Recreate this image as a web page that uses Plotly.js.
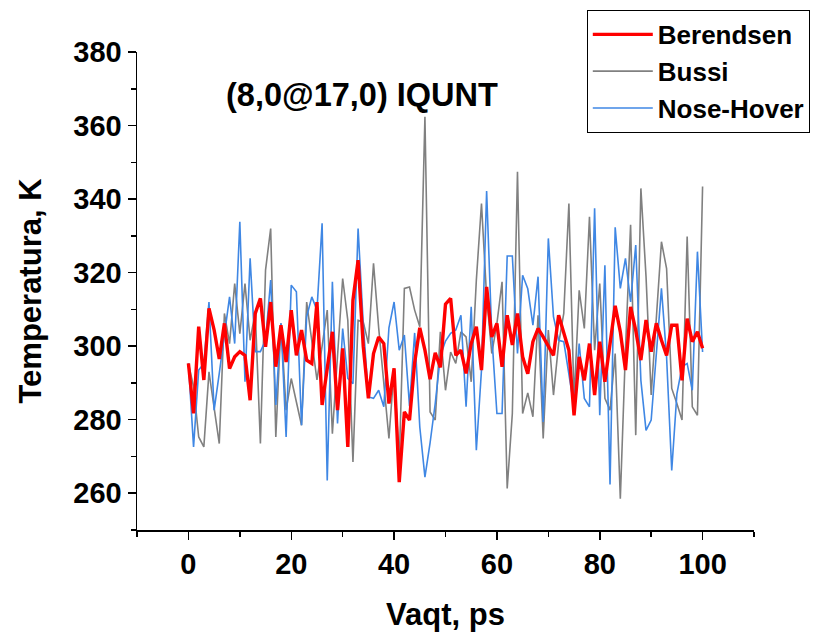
<!DOCTYPE html>
<html>
<head>
<meta charset="utf-8">
<script src="https://cdn.plot.ly/plotly-3.0.1.min.js"></script>
<style>html,body{margin:0;padding:0;background:#fff;}#chart{width:814px;height:633px;}</style>
</head>
<body>
<div id="chart"></div>
<script>
const timePs = Array.from({length: 101}, (_, i) => i);

const berendsen = [295.3,281.7,305.3,290.8,310.3,304.4,296.5,306.2,293.9,297.1,
298.5,297.5,285.3,308.9,313,299.8,312,294.4,305.7,295.7,
309.8,297.5,304.4,296.2,295.3,312,284,294.4,303.9,282.6,
299.4,272.6,312.5,323.4,300,285.8,298,302.5,300.7,284.4,
294,263,282.1,279.9,295.5,305,298.9,291,298.2,294.2,
311.4,313,297.5,298.9,292.6,300.7,305.3,293.5,316.1,302.5,
306.2,294.4,308.4,300.3,308.9,297.1,292.5,301.2,304.8,302.5,
299.8,297.5,308.4,303.9,298.9,281.2,297.1,290.7,300.7,286.7,
301.2,290.3,300.7,311,303.9,293.5,310.7,304.3,296.2,307.1,
298.5,306.2,301.6,297.5,305.7,305.7,290.7,307.5,301.2,303.9,299.4];

const bussi = [295.3,289,275.3,272.6,293,283.5,273.5,308.9,300.7,317,
303.4,317,301.6,309.3,273.5,320.7,332,275.3,306.2,282.6,
291.2,284.8,278.5,312,301.6,290.8,300,309.8,276.2,297,
318.4,307,268.5,307,306.6,300.7,322.5,305,290,274.9,
293.9,268.5,315.7,316.1,309.8,305.3,362.4,282.1,279.9,303.9,
288,298.4,295.3,303.9,302.5,290.3,318,338.8,313.4,298,
306.2,317.5,261.3,281.7,347.4,281.7,287.3,280.8,308.4,274.9,
304.4,286.7,300.7,308.9,338.8,285.3,315.2,304.8,335.2,298.9,
317,285.8,282.6,298,258.5,299,333,275.8,342.9,318.9,
286.7,308,328.4,321.1,288.5,284.4,279.9,329.8,283.5,281.2,343.4];

const noseHover = [295.3,272.6,293.5,295.3,312,282.6,292.6,302.5,313.4,300.7,
333.8,290.3,323.9,298.5,298.5,301.6,318,284,306.2,275.3,
316.6,314.8,278.5,308,313.4,309.8,333.4,263.5,317.5,279,
304.8,291.2,289.8,332,306.2,286.2,285.8,288,283.5,305,
312,298.9,303,283.7,303.6,278,264.4,273.7,284.4,297.3,
301.4,303.5,304.4,308.4,283.5,310.7,271.7,293.5,342.2,303,
281.7,281.7,324.5,324.5,298,319.3,315.6,305.7,318.9,279.4,
329.3,308,301.6,301.2,291.7,283.5,300.7,285.8,283.5,337.5,
281.2,322,262.4,332.3,315.7,323.9,312,327.5,290.7,277.1,
279.9,297.1,315.7,297,266.2,287,294.4,295.3,288,325.7,298.4];

const seriesNames = ["Berendsen", "Bussi", "Nose-Hover"];
const xTicks = [0, 20, 40, 60, 80, 100];
const yTicks = [260, 280, 300, 320, 340, 360, 380];

const FONT = "Liberation Sans, Arial, sans-serif";

const traces = [
  {x: timePs, y: bussi, name: seriesNames[1], type: "scatter", mode: "lines",
   line: {color: "#808080", width: 1.6}, legendrank: 2},
  {x: timePs, y: noseHover, name: seriesNames[2], type: "scatter", mode: "lines",
   line: {color: "#3f87e4", width: 1.6}, legendrank: 3},
  {x: timePs, y: berendsen, name: seriesNames[0], type: "scatter", mode: "lines",
   line: {color: "#ff0000", width: 3.4}, legendrank: 1}
];

const layout = {
  width: 814, height: 633,
  margin: {l: 137, r: 60, t: 52, b: 103, autoexpand: false},
  paper_bgcolor: "#ffffff", plot_bgcolor: "#ffffff",
  font: {family: FONT, color: "#000", size: 22},
  showlegend: true,
  legend: {
    x: 0.729, y: 1.088, xanchor: "left", yanchor: "top",
    bordercolor: "#000", borderwidth: 1, bgcolor: "#fff",
    font: {family: FONT, size: 26, color: "#000", weight: "bold"},
    itemwidth: 60, tracegroupgap: 0
  },
  xaxis: {
    range: [-10, 110], showgrid: false, zeroline: false,
    showline: true, linecolor: "#000", linewidth: 1.5,
    ticks: "outside", ticklen: 8, tickwidth: 1.5, tickcolor: "#000",
    tickvals: xTicks, ticktext: xTicks.map(String),
    tickfont: {family: FONT, size: 29, color: "#000", weight: "bold"},
    minor: {dtick: 10, tick0: 0, ticks: "outside", ticklen: 5, tickwidth: 1.5, tickcolor: "#000"},
    title: {text: "Vaqt, ps", font: {family: FONT, size: 31, color: "#000", weight: "bold"}, standoff: 24},
    automargin: false
  },
  yaxis: {
    range: [250, 380], showgrid: false, zeroline: false,
    showline: true, linecolor: "#000", linewidth: 1.5,
    ticks: "outside", ticklen: 8, tickwidth: 1.5, tickcolor: "#000",
    tickvals: yTicks, ticktext: yTicks.map(String),
    tickfont: {family: FONT, size: 29, color: "#000", weight: "bold"},
    minor: {dtick: 10, tick0: 250, ticks: "outside", ticklen: 5, tickwidth: 1.5, tickcolor: "#000"},
    title: {text: "Temperatura, K", font: {family: FONT, size: 31, color: "#000", weight: "bold"}, standoff: 22},
    automargin: false
  },
  annotations: [{
    text: "(8,0@17,0) IQUNT", xref: "paper", yref: "paper",
    x: 0.364, y: 0.91, xanchor: "center", yanchor: "middle", showarrow: false,
    font: {family: FONT, size: 32.5, color: "#000", weight: "bold"}
  }]
};

Plotly.newPlot("chart", traces, layout, {displayModeBar: false, staticPlot: true});
</script>
</body>
</html>
